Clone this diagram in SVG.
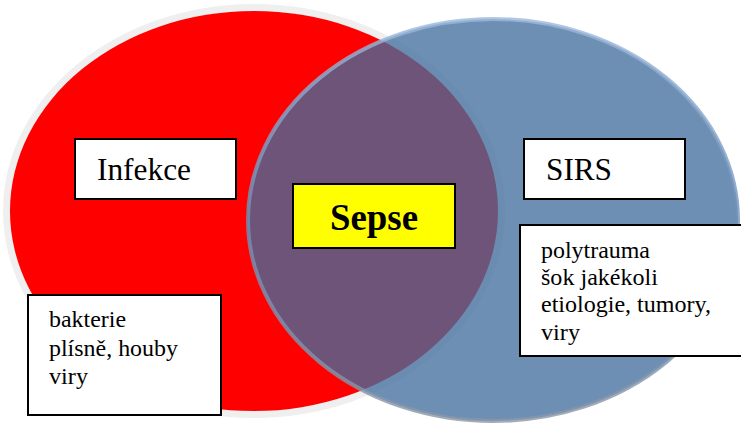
<svg xmlns="http://www.w3.org/2000/svg" width="741" height="424" viewBox="0 0 741 424">
  <style>
    .box { fill: #ffffff; stroke: #000000; stroke-width: 2; }
    text { font-family: 'Liberation Serif', 'Times New Roman', serif; fill: #000000; }
    .big { font-size: 31px; }
    .small { font-size: 24px; }
  </style>
  <defs>
    <linearGradient id="blueRim" x1="0" y1="0" x2="0" y2="1">
      <stop offset="0" stop-color="#9DB9DC"/>
      <stop offset="0.5" stop-color="#6F91B9"/>
      <stop offset="1" stop-color="#8A97A8"/>
    </linearGradient>
  </defs>
  <rect x="0" y="0" width="741" height="424" fill="#ffffff"/>
  <g id="infekce-set">
    <ellipse cx="254" cy="211" rx="251" ry="207" fill="#EFEFEF"/>
    <ellipse cx="254" cy="211" rx="244" ry="200" fill="#FF0000"/>
  </g>
  <g id="sirs-set">
    <ellipse cx="493" cy="220" rx="245" ry="201" fill="#436D9E" fill-opacity="0.77" stroke="url(#blueRim)" stroke-width="4" stroke-opacity="0.8"/>
  </g>
  <g id="infekce">
    <rect class="box" x="75" y="139" width="161" height="60"/>
    <text class="big" x="97" y="180" textLength="94" lengthAdjust="spacingAndGlyphs">Infekce</text>
  </g>
  <g id="sirs">
    <rect class="box" x="524" y="139" width="161" height="60"/>
    <text class="big" x="546" y="180" textLength="66" lengthAdjust="spacingAndGlyphs">SIRS</text>
  </g>
  <g id="sepse">
    <rect x="293" y="184" width="162" height="64" fill="#FFFF00" stroke="#000000" stroke-width="2"/>
    <text x="330" y="230" font-size="37" font-weight="bold" textLength="88" lengthAdjust="spacingAndGlyphs">Sepse</text>
  </g>
  <g id="infekce-examples">
    <rect class="box" x="28" y="295" width="193" height="120"/>
    <text class="small" x="49" y="327" textLength="77" lengthAdjust="spacingAndGlyphs">bakterie</text>
    <text class="small" x="49" y="356" textLength="129" lengthAdjust="spacingAndGlyphs">plísně, houby</text>
    <text class="small" x="49" y="384" textLength="39" lengthAdjust="spacingAndGlyphs">viry</text>
  </g>
  <g id="sirs-examples">
    <rect class="box" x="520" y="225" width="230" height="131"/>
    <text class="small" x="541" y="258" textLength="109" lengthAdjust="spacingAndGlyphs">polytrauma</text>
    <text class="small" x="541" y="285" textLength="117" lengthAdjust="spacingAndGlyphs">šok jakékoli</text>
    <text class="small" x="541" y="312" textLength="170" lengthAdjust="spacingAndGlyphs">etiologie, tumory,</text>
    <text class="small" x="541" y="340" textLength="39" lengthAdjust="spacingAndGlyphs">viry</text>
  </g>
  <g id="connectors"/>
</svg>
